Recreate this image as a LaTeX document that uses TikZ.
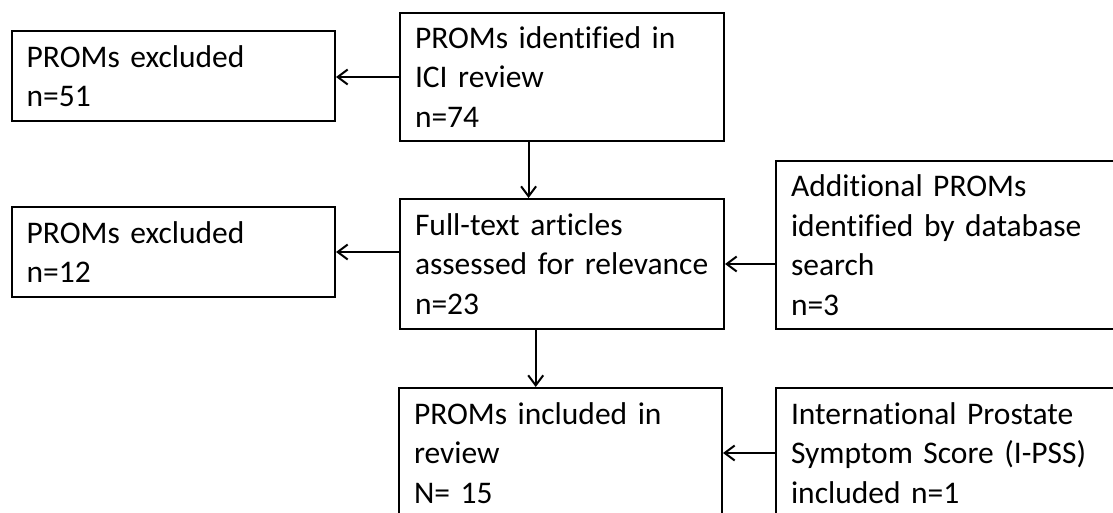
\documentclass[tikz,border=0pt]{standalone}
\usepackage{fontspec}
\setmainfont{Carlito}[Ligatures=NoCommon]
\usetikzlibrary{arrows.meta}
\begin{document}
\begin{tikzpicture}[x=1pt,y=-1pt,
  box/.style={draw, line width=2pt, rectangle, align=left, anchor=north west,
    inner xsep=15pt, inner ysep=0pt, font=\fontsize{31.5}{39.5}\selectfont},
  arr/.style={draw, line width=2pt, -{Straight Barb[length=10pt,width=15pt,line width=2pt]}}]
\useasboundingbox (0,0) rectangle (1113,513);
\fill[white] (0,0) rectangle (1113,513);
\clip (0,0) rectangle (1113,513);
\node[box, text width=293.3pt, minimum height=90pt] (A) at (10.7,30) {PROMs excluded\\n=51};
\node[box, text width=294pt, minimum height=128pt] (B) at (399,12) {PROMs identified in\\ICI review\\n=74};
\node[box, text width=294pt, minimum height=130pt] (C) at (399,198) {Full-text articles\\assessed for relevance\\n=23};
\node[box, text width=293.3pt, minimum height=90pt] (D) at (10.7,206) {PROMs excluded\\n=12};
\node[box, text width=340pt, minimum height=168pt] (E) at (775,160) {Additional PROMs\\identified by database\\search\\n=3};
\node[box, text width=293pt, minimum height=130pt] (F) at (398,387) {PROMs included in\\review\\N= 15};
\node[box, text width=340pt, minimum height=130pt] (G) at (775,387) {International Prostate\\Symptom Score (I-PSS)\\included n=1};
\coordinate (bc) at (528.6,0);
\coordinate (cf) at (535.7,0);
\draw[arr] (B.west) -- (B.west -| A.east);
\draw[arr] (B.south -| bc) -- (C.north -| bc);
\draw[arr] (C.west |- D.east) -- (D.east);
\draw[arr] (E.west |- C.east) -- (C.east);
\draw[arr] (C.south -| cf) -- (F.north -| cf);
\draw[arr] (G.west) -- (F.east);
\end{tikzpicture}
\end{document}
